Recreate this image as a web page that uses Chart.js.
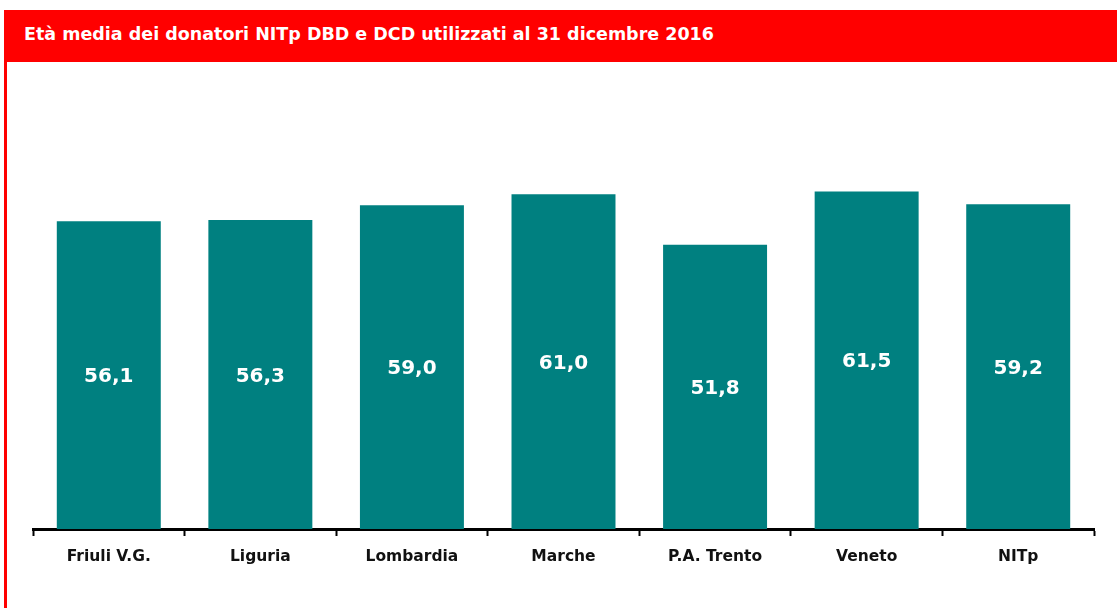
<!DOCTYPE html>
<html>
<head>
<meta charset="utf-8">
<script src="https://cdn.jsdelivr.net/npm/chart.js@4.4.1/dist/chart.umd.min.js"></script>
<style>
  html, body { margin: 0; padding: 0; background: #fff; width: 1117px; height: 608px; overflow: hidden; }
  #header { position: absolute; left: 4px; top: 10px; width: 1113px; height: 52px; background: #ff0000;
    color: #fff; font-family: "DejaVu Sans", Verdana, sans-serif; font-weight: bold; font-size: 17.5px;
    line-height: 48px; padding-left: 20px; box-sizing: border-box; }
  #leftline { position: absolute; left: 4px; top: 62px; width: 3px; height: 546px; background: #ff0000; }
  #wrap { position: absolute; left: 0; top: 0; width: 1117px; height: 608px; }
</style>
</head>
<body>
<div id="wrap"><canvas id="c" width="1117" height="608"></canvas></div>
<div id="header">Età media dei donatori NITp DBD e DCD utilizzati al 31 dicembre 2016</div>
<div id="leftline"></div>
<script>
const categories = ["Friuli V.G.", "Liguria", "Lombardia", "Marche", "P.A. Trento", "Veneto", "NITp"];
const ages = [56.1, 56.3, 59.0, 61.0, 51.8, 61.5, 59.2];
const valueLabels = ["56,1", "56,3", "59,0", "61,0", "51,8", "61,5", "59,2"];

const centerLabels = {
  id: 'centerLabels',
  afterDatasetsDraw(chart) {
    const ctx = chart.ctx;
    const meta = chart.getDatasetMeta(0);
    ctx.save();
    ctx.fillStyle = '#ffffff';
    ctx.font = 'bold 20px "DejaVu Sans", Verdana, sans-serif';
    ctx.textAlign = 'center';
    ctx.textBaseline = 'middle';
    meta.data.forEach((bar, i) => {
      const mid = (bar.y + bar.base) / 2;
      ctx.fillText(valueLabels[i], bar.x, mid + 2);
    });
    ctx.restore();
  }
};

new Chart(document.getElementById('c'), {
  type: 'bar',
  data: {
    labels: categories,
    datasets: [{
      data: ages,
      backgroundColor: '#008080',
      borderWidth: 0,
      categoryPercentage: 1.0,
      barPercentage: 0.686
    }]
  },
  options: {
    responsive: false,
    animation: false,
    devicePixelRatio: 1,
    layout: { padding: { left: 33, right: 23, top: 90, bottom: 0 } },
    plugins: { legend: { display: false }, tooltip: { enabled: false }, title: { display: false } },
    scales: {
      x: {
        grid: { display: true, drawOnChartArea: false, drawTicks: true, tickLength: 7, tickWidth: 2, tickColor: '#000', offset: true },
        border: { display: true, color: '#000', width: 3 },
        ticks: { color: '#111', padding: 12, font: { family: '"DejaVu Sans", Verdana, sans-serif', weight: 'bold', size: 15.5 } },
        afterFit(scale) { scale.height = 79; }
      },
      y: {
        display: false,
        min: 0,
        max: 80
      }
    }
  },
  plugins: [centerLabels]
});
</script>
</body>
</html>
